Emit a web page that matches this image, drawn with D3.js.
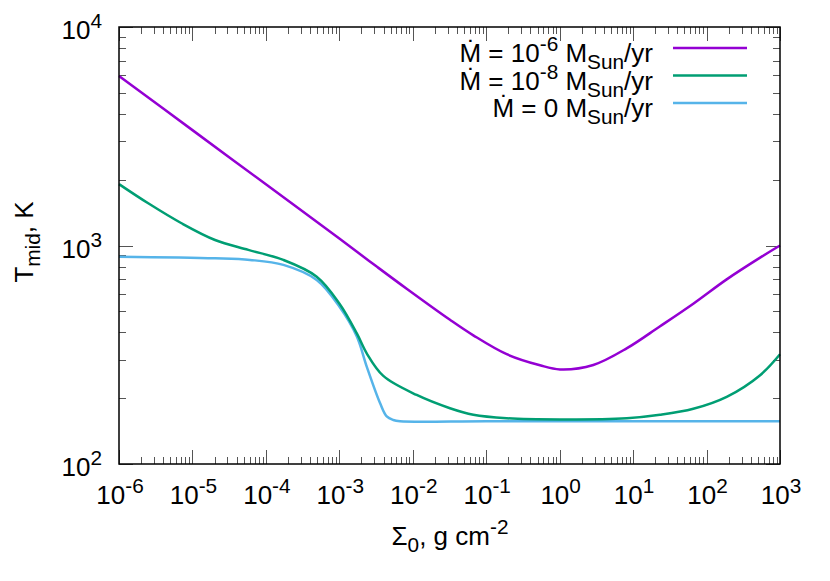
<!DOCTYPE html>
<html>
<head>
<meta charset="utf-8">
<script src="https://cdn.jsdelivr.net/npm/d3@7"></script>
<style>
  body { margin: 0; background: #fff; }
  svg { font-family: "Liberation Sans", Arial, sans-serif; }
</style>
</head>
<body>
<svg id="chart"></svg>
<script>
// surface density (g cm^-2) and midplane temperature (K) for each accretion rate
const sigmaHigh = [1e-6, 1e-5, 1e-4, 1e-3, 3.16e-3, 8.26e-3, 0.0321, 0.0667, 0.19, 0.54, 1.01, 2.87, 8.26, 22.8, 66.7, 188, 536, 1000]
const tempHigh  = [5970, 3373, 1905, 1076, 805, 634, 457, 388, 318, 283, 271, 284, 339, 425, 543, 700, 880, 1000]

const sigmaLow = [1e-6, 2.5e-6, 7.1e-6, 2.03e-5, 5.77e-5, 1.73e-4, 4.92e-4, 1e-3, 1.73e-3, 2.36e-3, 3.97e-3, 0.0113, 0.0321, 0.0667, 0.19, 1.01, 8.2, 23.2, 66, 188, 536, 1000]
const tempLow  = [1910, 1560, 1264, 1060, 955, 859, 720, 543, 396, 321, 253, 207, 180, 168, 162, 160, 162, 168, 179, 203, 255, 318]

const sigmaZero = [1e-6, 2.03e-5, 6.08e-5, 1.73e-4, 4.92e-4, 1e-3, 1.73e-3, 2.36e-3, 3.58e-3, 4.42e-3, 5.43e-3, 6.7e-3, 0.1, 10, 1000]
const tempZero  = [889, 874, 859, 815, 695, 525, 383, 279, 190, 165, 159, 157, 157, 157, 157]

const xDecades = [-6, -5, -4, -3, -2, -1, 0, 1, 2, 3]
const yDecades = [2, 3, 4]

const series = [
  {name: "-6", sigma: sigmaHigh, temp: tempHigh, color: "#9400d3"},
  {name: "-8", sigma: sigmaLow,  temp: tempLow,  color: "#009e73"},
  {name: "0",  sigma: sigmaZero, temp: tempZero, color: "#56b4e9"}
]

const width = 830, height = 581
const margin = {left: 119, right: 50, top: 27, bottom: 117}
const fs = 26

const svg = d3.select("#chart").attr("width", width).attr("height", height)

const x = d3.scaleLog().domain([1e-6, 1e3]).range([margin.left, width - margin.right])
const y = d3.scaleLog().domain([1e2, 1e4]).range([height - margin.bottom, margin.top])

const x0 = x.range()[0], x1 = x.range()[1]
const y0 = y.range()[0], y1 = y.range()[1]

// text with super/subscripts
function rich(sel, parts) {
  let shift = 0
  parts.forEach(p => {
    let target = p.sup ? -11 : p.sub ? 7 : 0
    sel.append("tspan")
      .attr("dy", target - shift)
      .attr("font-size", (p.sup || p.sub) ? fs * 0.8 : fs)
      .text(p.t)
    shift = target
  })
}

// ticks: majors at decades, minors at 2..9
const xMinor = [], yMinor = []
xDecades.slice(0, -1).forEach(e => { for (let k = 2; k < 10; k++) xMinor.push(k * Math.pow(10, e)) })
yDecades.slice(0, -1).forEach(e => { for (let k = 2; k < 10; k++) yMinor.push(k * Math.pow(10, e)) })

const ticks = svg.append("g").attr("stroke", "#555").attr("stroke-width", 1)

function xTick(v, len) {
  const px = Math.round(x(v)) + 0.5
  ticks.append("line").attr("x1", px).attr("x2", px).attr("y1", y0).attr("y2", y0 - len)
  ticks.append("line").attr("x1", px).attr("x2", px).attr("y1", y1).attr("y2", y1 + len)
}
function yTick(v, len) {
  const py = Math.round(y(v)) + 0.5
  ticks.append("line").attr("y1", py).attr("y2", py).attr("x1", x0).attr("x2", x0 + len)
  ticks.append("line").attr("y1", py).attr("y2", py).attr("x1", x1).attr("x2", x1 - len)
}
xDecades.forEach(e => xTick(Math.pow(10, e), 14))
xMinor.forEach(v => xTick(v, 7))
yDecades.forEach(e => yTick(Math.pow(10, e), 14))
yMinor.forEach(v => yTick(v, 7))

// tick labels
xDecades.forEach(e => {
  const t = svg.append("text")
    .attr("x", x(Math.pow(10, e)) + 1)
    .attr("y", y0 + 40)
    .attr("text-anchor", "middle")
    .attr("font-size", fs)
  rich(t, [{t: "10"}, {t: String(e), sup: true}])
})
yDecades.forEach(e => {
  const t = svg.append("text")
    .attr("x", x0 - 17)
    .attr("y", y(Math.pow(10, e)) + 12)
    .attr("text-anchor", "end")
    .attr("font-size", fs)
  rich(t, [{t: "10"}, {t: String(e), sup: true}])
})

// curves
const line = d3.line()
  .x(d => x(d[0]))
  .y(d => y(d[1]))
  .curve(d3.curveCatmullRom.alpha(0.5))

const plot = svg.append("g")
series.slice().reverse().forEach(s => {
  plot.append("path")
    .datum(s.sigma.map((v, i) => [v, s.temp[i]]))
    .attr("fill", "none")
    .attr("stroke", s.color)
    .attr("stroke-width", 2.5)
    .attr("d", line)
})

// border
svg.append("rect")
  .attr("x", x0).attr("y", y1)
  .attr("width", x1 - x0).attr("height", y0 - y1)
  .attr("fill", "none")
  .attr("stroke", "#000")
  .attr("stroke-width", 1.5)

// legend
const legend = svg.append("g")
series.forEach((s, i) => {
  const ly = 48 + i * 27.5
  legend.append("line")
    .attr("x1", 673).attr("x2", 747)
    .attr("y1", ly).attr("y2", ly)
    .attr("stroke", s.color)
    .attr("stroke-width", 2.5)
  const t = legend.append("text")
    .attr("x", 653)
    .attr("y", ly + 14)
    .attr("text-anchor", "end")
    .attr("font-size", fs)
  const parts = s.name === "0"
    ? [{t: "Ṁ = 0 M"}, {t: "Sun", sub: true}, {t: "/yr"}]
    : [{t: "Ṁ = 10"}, {t: s.name, sup: true}, {t: " M"}, {t: "Sun", sub: true}, {t: "/yr"}]
  rich(t, parts)
})

// axis titles
const xt = svg.append("text")
  .attr("x", 450)
  .attr("y", 545)
  .attr("text-anchor", "middle")
  .attr("font-size", fs)
rich(xt, [{t: "Σ"}, {t: "0", sub: true}, {t: ", g cm"}, {t: "-2", sup: true}])

const yt = svg.append("text")
  .attr("transform", "translate(33,242) rotate(-90)")
  .attr("text-anchor", "middle")
  .attr("font-size", fs)
rich(yt, [{t: "T"}, {t: "mid", sub: true}, {t: ", K"}])
</script>
</body>
</html>
